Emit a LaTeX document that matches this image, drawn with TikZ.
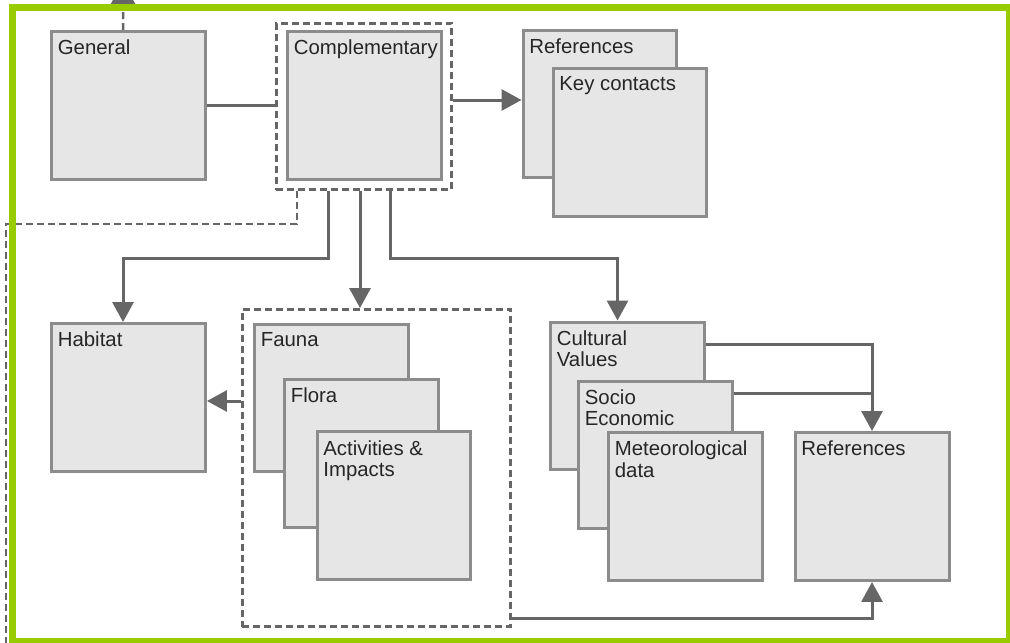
\documentclass[tikz,border=0pt]{standalone}
\usepackage{fontspec}
\setmainfont{Liberation Sans}
\usetikzlibrary{positioning,arrows.meta}

\definecolor{boxfill}{HTML}{E6E6E6}
\definecolor{boxline}{HTML}{8C8C8C}
\definecolor{wire}{HTML}{666666}
\definecolor{leaf}{HTML}{99CC00}

\begin{document}
\begin{tikzpicture}[x = 0.02cm, y = -0.02cm, node distance = 1cm and 1cm, on grid,
                    block/.style = {rectangle,
                                    draw = boxline,
                                    fill = boxfill,
                                    line width = 0.06cm,
                                    inner sep = 0pt,
                                    minimum width = 3.08cm,
                                    minimum height = 2.96cm},
                    tag/.style   = {anchor = north west,
                                    inner sep = 0pt,
                                    align = left,
                                    xshift = 0.15cm,
                                    yshift = -0.19cm,
                                    text = black!85,
                                    font = \fontsize{11.6}{12.4}\selectfont},
                    group/.style = {rectangle,
                                    draw = wire,
                                    line width = 0.05cm,
                                    dash pattern = on 0.14cm off 0.08cm,
                                    inner sep = 0pt},
                    link/.style  = {draw = wire, line width = 0.06cm},
                    arr/.style   = {link, -{Triangle[length = 0.4cm, width = 0.42cm]}},
                    trail/.style = {draw = wire, line width = 0.05cm,
                                    dash pattern = on 0.14cm off 0.08cm}]

\useasboundingbox (0,0) rectangle (1010,642);

\node[block, label = {[tag]north west:General}] (G) at (128.5,105.5) {};
\node[block, label = {[tag]north west:Complementary}] (C) at (364.5,105.5) {};
\node[group, minimum width = 3.51cm, minimum height = 3.33cm] (C0) at (364,106.5) {};

\node[block, label = {[tag]north west:References}] (R) at (600,104) {};
\node[block, label = {[tag]north west:Key contacts}] (K) [below right = 0.77cm and 0.6cm of R] {};

\node[block, label = {[tag]north west:Habitat}] (H) at (128.5,397.5) {};

\node[group, minimum width = 5.37cm, minimum height = 6.35cm] (B0) at (376.5,468) {};
\node[block, label = {[tag]north west:Fauna}] (F1) at (331.5,398) {};
\node[block, label = {[tag]north west:Flora}] (F2) [below right = 1.11cm and 0.6cm of F1] {};
\node[block, label = {[tag]north west:Activities \&\\Impacts}] (F3) [below right = 1.05cm and 0.65cm of F2] {};

\node[block, label = {[tag]north west:Cultural\\Values}] (S1) at (627.5,396) {};
\node[block, label = {[tag]north west:Socio\\Economic}] (S2) [below right = 1.18cm and 0.56cm of S1] {};
\node[block, label = {[tag]north west:Meteorological\\data}] (S3) [below right = 1.03cm and 0.6cm of S2] {};

\node[block, label = {[tag]north west:References}] (R2) at (872,506.5) {};

% free ends
\coordinate (up) at (123,-18);
\coordinate (L1) at (6,224);
\coordinate (L2) at (6,650);

\draw[trail, -{Triangle[length = 0.44cm, width = 0.48cm]}] ([xshift = -0.11cm]G.north) -- (up);
\draw[trail] ([xshift = -1.34cm]C0.south) |- (L1) -- (L2);

\draw[link] (G.east) -- (G.east -| C0.west);
\draw[arr] ([yshift = 0.08cm]C0.east |- R.west) -- ([yshift = 0.08cm]R.west);

\draw[arr] ([xshift = -0.72cm]C0.south) |- ([xshift = -0.11cm, yshift = 1.28cm]H.north)
           -- ([xshift = -0.11cm]H.north);
\draw[arr] ([xshift = -0.08cm]C0.south) -- ([xshift = -0.08cm]C0.south |- B0.north);
\draw[arr] ([xshift = 0.52cm]C0.south) |- ([xshift = -0.2cm, yshift = 1.24cm]S1.north)
           -- ([xshift = -0.2cm]S1.north);

\draw[arr] ([yshift = -0.07cm]B0.west |- H.east) -- ([yshift = -0.07cm]H.east);

\draw[arr] ([yshift = 1.04cm]S1.east) -| (R2.north);
\draw[link] ([yshift = 1.24cm]S2.east) -- ([yshift = 1.24cm]S2.east -| R2.north);
\draw[arr] ([yshift = -3.02cm]B0.east) -| (R2.south);

% outer frame
\draw[leaf, line width = 0.14cm] (12.5,8) rectangle (1009,641);

\end{tikzpicture}
\end{document}
